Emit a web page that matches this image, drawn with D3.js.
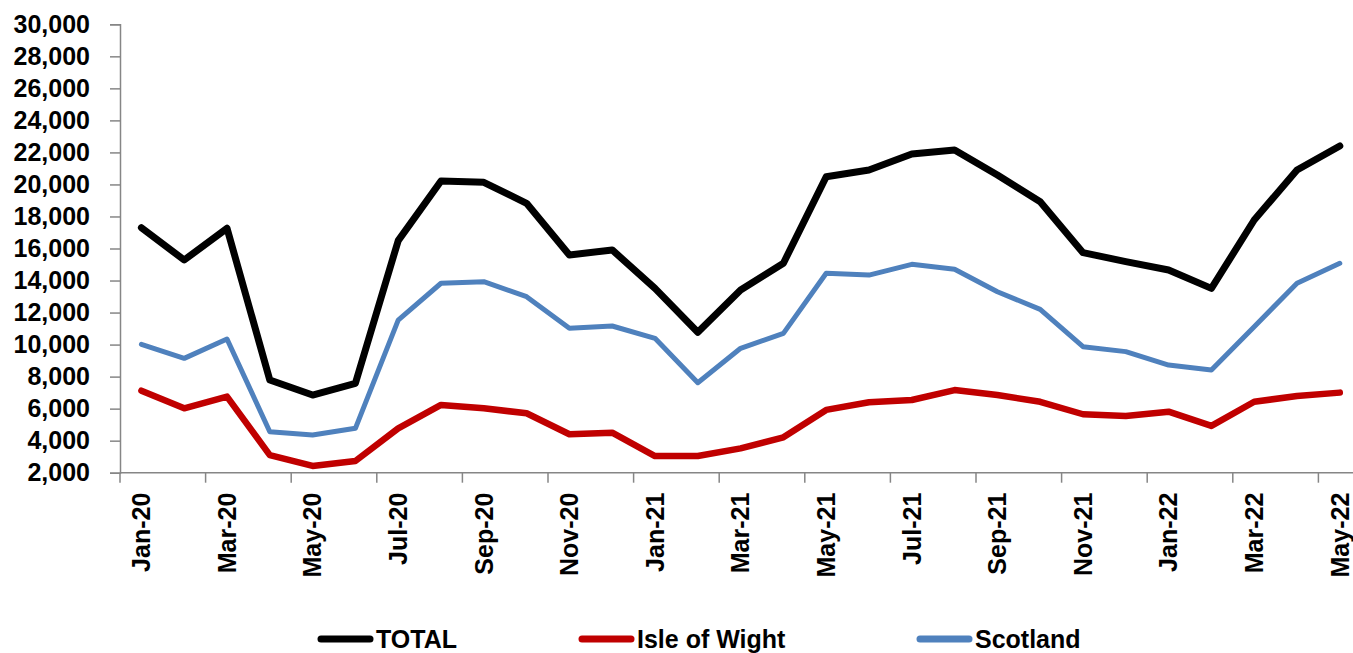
<!DOCTYPE html>
<html><head><meta charset="utf-8">
<script src="https://cdn.jsdelivr.net/npm/d3@7"></script>
<style>
html,body{margin:0;padding:0;background:#fff;overflow:hidden;}
text{font-family:"Liberation Sans",Arial,sans-serif;font-weight:bold;fill:#000;}
</style></head>
<body>
<svg id="c" width="1353" height="653"></svg>
<script>
const months = ["Jan-20","Feb-20","Mar-20","Apr-20","May-20","Jun-20","Jul-20","Aug-20","Sep-20","Oct-20","Nov-20","Dec-20",
"Jan-21","Feb-21","Mar-21","Apr-21","May-21","Jun-21","Jul-21","Aug-21","Sep-21","Oct-21","Nov-21","Dec-21",
"Jan-22","Feb-22","Mar-22","Apr-22","May-22"];
const total = [17300,15280,17260,7790,6850,7580,16490,20210,20130,18820,15590,15910,
13510,10770,13410,15080,20480,20900,21900,22150,20590,18920,15740,15180,14660,13510,17780,20900,22400];
const isleOfWight = [7120,6020,6750,3100,2420,2730,4770,6230,6020,5710,4400,4500,
3040,3040,3520,4210,5920,6400,6540,7160,6850,6430,5650,5540,5810,4920,6430,6790,7000];
const scotland = [10020,9140,10350,4560,4350,4770,11530,13830,13930,12990,11020,11160,
10390,7620,9770,10700,14450,14340,15010,14700,13300,12200,9870,9560,8720,8410,11120,13830,15080];
const yTicks = [2000,4000,6000,8000,10000,12000,14000,16000,18000,20000,22000,24000,26000,28000,30000];
const seriesNames = ["TOTAL","Isle of Wight","Scotland"];
const seriesColors = ["#000000","#C00000","#4F81BD"];

const svg = d3.select("#c");
const mLeft = 120, band = 42.8, mTop = 24.3, mBottom = 472.7;
const x = d3.scaleBand().domain(months).range([mLeft, mLeft + band*months.length]);
const y = d3.scaleLinear().domain([2000,30000]).range([mBottom, mTop]);
const axisColor = "#868686";

// y axis
const ya = svg.append("g").attr("transform",`translate(${mLeft},0)`)
  .call(d3.axisLeft(y).tickValues(yTicks).tickSize(10).tickPadding(20).tickFormat(d3.format(",")));
ya.select(".domain").attr("stroke",axisColor).attr("stroke-width",1.5);
ya.selectAll(".tick line").attr("stroke",axisColor).attr("stroke-width",1.5);
ya.selectAll(".tick text").attr("font-size",25).attr("font-family","Liberation Sans, Arial, sans-serif").attr("font-weight","bold").attr("fill","#000");

// x axis
const xg = svg.append("g").attr("transform",`translate(0,${mBottom})`);
xg.append("line").attr("x1",mLeft).attr("x2",1353).attr("y1",0).attr("y2",0)
  .attr("stroke",axisColor).attr("stroke-width",1.5);
months.forEach((m,i)=>{
  if(i%2===0){
    xg.append("line").attr("x1",x(m)).attr("x2",x(m)).attr("y1",0).attr("y2",10)
      .attr("stroke",axisColor).attr("stroke-width",1.5);
    xg.append("text").attr("transform",`translate(${x(m)+x.bandwidth()/2},20) rotate(-90)`)
      .attr("text-anchor","end").attr("dy","0.35em").attr("font-size",25).text(m);
  }
});

// lines
const data = [total, isleOfWight, scotland];
const widths = [7,6.5,5];
const line = d3.line().x((d,i)=>x(months[i])+x.bandwidth()/2).y(d=>y(d));
[1,2,0].forEach(k=>{
  svg.append("path").datum(data[k]).attr("d",line).attr("fill","none")
    .attr("stroke",seriesColors[k]).attr("stroke-width",widths[k])
    .attr("stroke-linejoin","round").attr("stroke-linecap","round");
});

// legend
const legX = [318,579,917];
const lg = svg.append("g");
seriesNames.forEach((n,i)=>{
  lg.append("line").attr("x1",legX[i]+3).attr("x2",legX[i]+52).attr("y1",639).attr("y2",639)
    .attr("stroke",seriesColors[i]).attr("stroke-width",7).attr("stroke-linecap","round");
  lg.append("text").attr("x",legX[i]+58).attr("y",639).attr("dy","0.35em").attr("font-size",25).text(n);
});
</script>
</body></html>
